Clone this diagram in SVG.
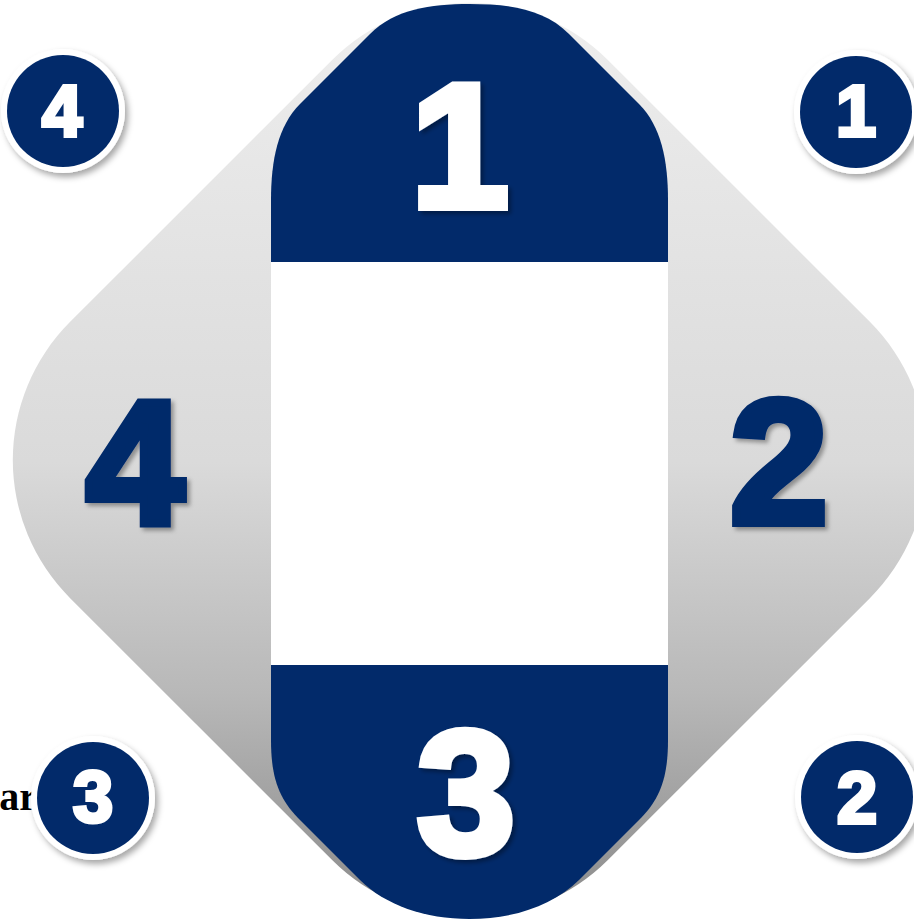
<svg xmlns="http://www.w3.org/2000/svg" width="914" height="924" viewBox="0 0 914 924">
  <defs>
    <linearGradient id="grayGrad" gradientUnits="userSpaceOnUse" x1="0" y1="0" x2="0" y2="924" gradientTransform="rotate(-45 470 460)">
      <stop offset="0" stop-color="#eeeeee"/>
      <stop offset="0.5" stop-color="#dadada"/>
      <stop offset="0.75" stop-color="#b8b8b8"/>
      <stop offset="1" stop-color="#888888"/>
    </linearGradient>
    <filter id="numShadow" x="-20%" y="-20%" width="140%" height="140%">
      <feDropShadow dx="3" dy="3" stdDeviation="2" flood-color="#000" flood-opacity="0.35"/>
    </filter>
    <filter id="circShadow" x="-30%" y="-30%" width="160%" height="160%">
      <feDropShadow dx="3" dy="4" stdDeviation="3" flood-color="#000" flood-opacity="0.35"/>
    </filter>
  </defs>
  <style>
    .navy { fill: #022a6a; }
    .big { font-family: "Liberation Sans", Arial, sans-serif; font-weight: bold; font-size: 176px; text-anchor: middle; stroke-width: 8; stroke-linejoin: miter; }
    .bigW { fill: #ffffff; stroke: #ffffff; }
    .bigN { fill: #022a6a; stroke: #022a6a; }
    .small { font-family: "Liberation Sans", Arial, sans-serif; font-weight: bold; font-size: 72px; text-anchor: middle; fill: #ffffff; stroke: #ffffff; stroke-width: 4; }
    .ring { fill: #ffffff; }
  </style>

  <g id="background">
    <rect x="89.6" y="79.6" width="760.8" height="760.8" rx="195" ry="195" fill="url(#grayGrad)" transform="rotate(45 470 460)"/>
  </g>

  <g id="center-white">
    <rect x="271" y="262" width="397" height="403" fill="#ffffff"/>
  </g>

  <g id="node-top-1">
    <path class="navy" d="M271,262 L271,200 C271,160 278,126 300,104 L370,34 C395,9 430,4 469.5,4 C509,4 544,9 569,34 L639,104 C661,126 668,160 668,200 L668,262 Z"/>
    <text class="big bigW" x="460" y="207" filter="url(#numShadow)">1</text>
  </g>

  <g id="node-bottom-3">
    <path class="navy" d="M271,665 L271,740 C271,780 280,800 300,820 L360,880 C385,905 425,919 469.5,919 C514,919 554,905 579,880 L639,820 C659,800 668,780 668,740 L668,665 Z"/>
    <text class="big bigW" x="466" y="854" filter="url(#numShadow)">3</text>
  </g>

  <g id="node-left-4">
    <text class="big bigN" x="135" y="524" filter="url(#numShadow)">4</text>
  </g>

  <g id="node-right-2">
    <text class="big bigN" x="779" y="523" filter="url(#numShadow)">2</text>
  </g>

  <g id="label-ar">
    <text x="37" y="810" font-family="'Liberation Serif', 'Times New Roman', serif" font-weight="bold" font-size="40" text-anchor="end" fill="#000000">ar</text>
  </g>

  <g id="badge-4">
    <circle class="ring" cx="63" cy="111" r="62" filter="url(#circShadow)"/>
    <circle class="navy" cx="63" cy="111" r="56"/>
    <text class="small" x="62" y="136">4</text>
  </g>

  <g id="badge-1">
    <circle class="ring" cx="856" cy="112" r="62" filter="url(#circShadow)"/>
    <circle class="navy" cx="856" cy="112" r="56"/>
    <text class="small" x="856" y="136">1</text>
  </g>

  <g id="badge-3">
    <circle class="ring" cx="93" cy="798" r="62" filter="url(#circShadow)"/>
    <circle class="navy" cx="93" cy="798" r="56"/>
    <text class="small" x="93" y="822">3</text>
  </g>

  <g id="badge-2">
    <circle class="ring" cx="857" cy="797" r="62" filter="url(#circShadow)"/>
    <circle class="navy" cx="857" cy="797" r="56"/>
    <text class="small" x="857" y="823">2</text>
  </g>
</svg>
